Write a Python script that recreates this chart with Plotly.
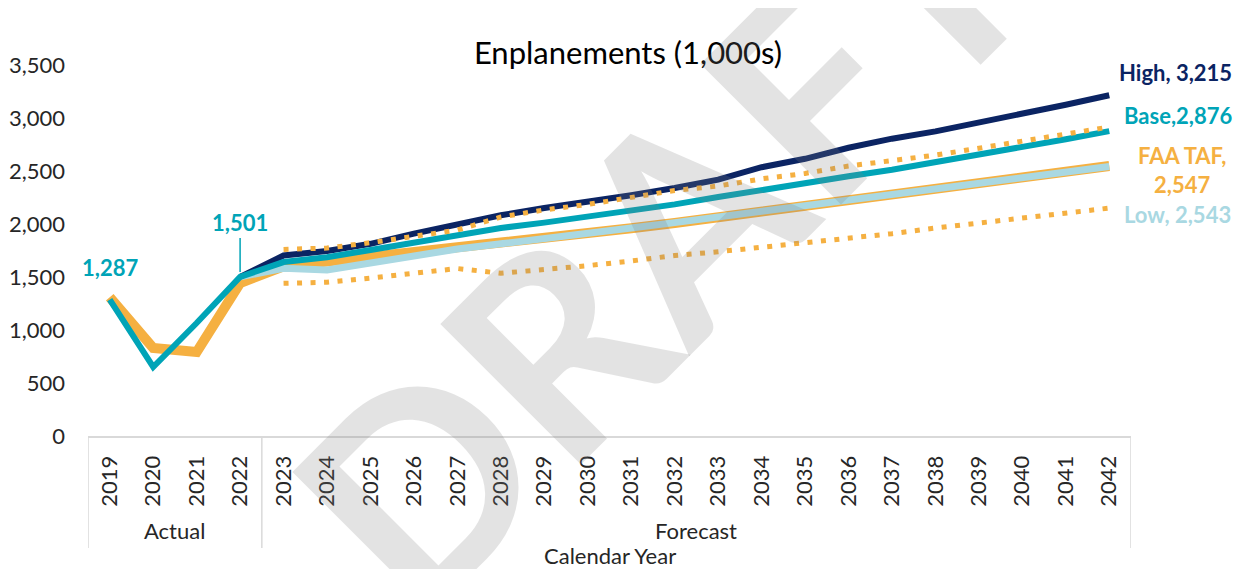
import plotly.graph_objects as go

# ---- data ----
years = [str(y) for y in range(2019, 2043)]

base = [1287, 651, 1066, 1501, 1641, 1686, 1755, 1824, 1892, 1962, 2013, 2066,
        2123, 2185, 2254, 2323, 2392, 2450, 2512, 2581, 2650, 2720, 2800, 2876]
high = [None, None, None, 1501, 1703, 1745, 1813, 1909, 1995, 2082, 2151, 2209,
        2271, 2340, 2419, 2536, 2615, 2719, 2805, 2874, 2955, 3040, 3125, 3215]
low = [None, None, None, 1501, 1583, 1566, 1634, 1703, 1764, 1813, 1858, 1909,
       1962, 2013, 2066, 2116, 2170, 2220, 2274, 2323, 2378, 2432, 2488, 2543]
faa_taf = [1310, 830, 792, 1443, 1600, 1640, 1690, 1735, 1780, 1825, 1865, 1910,
           1960, 2010, 2065, 2115, 2170, 2225, 2280, 2330, 2385, 2440, 2495, 2547]
taf_upper = [None, None, None, None, 1760, 1773, 1824, 1882, 1943, 2066, 2133, 2185,
             2254, 2316, 2358, 2426, 2477, 2547, 2598, 2650, 2715, 2780, 2850, 2915]
taf_lower = [None, None, None, None, 1440, 1450, 1490, 1531, 1580, 1535, 1566, 1607,
             1651, 1703, 1738, 1779, 1824, 1858, 1909, 1962, 2010, 2060, 2105, 2150]

periods = ["Actual", "Forecast"]
period_bounds = [-0.5, 3.5, 23.5]

NAVY = "#0b2463"
TEAL = "#00a4b7"
ORANGE = "#f5b041"
LIGHT = "#a9d8e2"
FONT = "Lato"
last = len(years) - 1

fig = go.Figure()

fig.add_trace(go.Scatter(x=years, y=faa_taf, mode="lines", name="FAA TAF",
                         line=dict(color=ORANGE, width=10)))
fig.add_trace(go.Scatter(x=years, y=low, mode="lines", name="Low",
                         line=dict(color=LIGHT, width=7)))
fig.add_trace(go.Scatter(x=years, y=high, mode="lines", name="High",
                         line=dict(color=NAVY, width=6)))
fig.add_trace(go.Scatter(x=years, y=base, mode="lines", name="Base",
                         line=dict(color=TEAL, width=6)))
for band in (taf_upper, taf_lower):
    fig.add_trace(go.Scatter(x=years, y=band, mode="lines",
                             line=dict(color=ORANGE, width=5, dash="5px,8.5px")))

# data labels (category axis -> use the index, numeric-looking names get cast)
lab = dict(family=FONT, size=22, weight="bold")
fig.add_annotation(x=0, y=base[0], text=f"{base[0]:,}", showarrow=False,
                   yshift=32, font=dict(lab, color=TEAL))
fig.add_annotation(x=3, y=base[3], text=f"{base[3]:,}", showarrow=True,
                   arrowhead=0, arrowwidth=1.5, arrowcolor=TEAL, ax=0, ay=-54,
                   standoff=5, font=dict(lab, color=TEAL))
fig.add_annotation(x=last, y=high[-1], text=f"High, {high[-1]:,}", showarrow=False,
                   xshift=66, yshift=23, font=dict(lab, color=NAVY))
fig.add_annotation(x=last, y=base[-1], text=f"Base,{base[-1]:,}", showarrow=False,
                   xshift=69, yshift=16, font=dict(lab, color=TEAL))
fig.add_annotation(x=last, y=faa_taf[-1], text=f"FAA TAF,<br>{faa_taf[-1]:,}",
                   showarrow=False, xshift=73, yshift=-4, align="center",
                   font=dict(lab, color=ORANGE))
fig.add_annotation(x=last, y=low[-1], text=f"Low, {low[-1]:,}", showarrow=False,
                   xshift=68, yshift=-48, font=dict(lab, color=LIGHT))

# group dividers and labels under the year ticks
for b in period_bounds:
    fig.add_shape(type="line", xref="x", yref="paper", x0=b, x1=b, y0=0, y1=-0.302,
                  line=dict(color="#d9d9d9", width=1.5))
for i, p in enumerate(periods):
    fig.add_annotation(xref="x", yref="paper", x=(period_bounds[i] + period_bounds[i + 1]) / 2,
                       y=-0.256, yanchor="middle", text=p, showarrow=False,
                       font=dict(family=FONT, size=22, color="#262626"))
fig.add_annotation(xref="paper", yref="paper", x=0.5, y=-0.323, yanchor="middle",
                   text="Calendar Year", showarrow=False,
                   font=dict(family=FONT, size=22, color="#262626"))

# watermark
fig.add_annotation(xref="paper", yref="paper", x=0.548, y=0.539, xanchor="center",
                   yanchor="middle", text="DRAFT", showarrow=False, textangle=-45,
                   font=dict(family="Lato", size=275, weight="bold",
                             color="rgba(128,128,128,0.22)"))

# page body has an 8px margin, so the figure is 8px smaller and margins shifted
fig.update_layout(
    width=1236,
    height=561,
    margin=dict(l=80, r=113, t=57, b=133, autoexpand=False),
    plot_bgcolor="white",
    paper_bgcolor="white",
    showlegend=False,
    title=dict(text="Enplanements (1,000s)", x=(628 - 8) / 1236, xanchor="center",
               y=1 - 45 / 561, yanchor="middle",
               font=dict(family=FONT, size=31, color="#000000")),
    xaxis=dict(type="category", range=[-0.5, 23.5], showline=True, linecolor="#d9d9d9",
               linewidth=2, showgrid=False, ticks="", tickangle=-90, automargin=False,
               ticklabelstandoff=9, tickfont=dict(family=FONT, size=22, color="#262626")),
    yaxis=dict(range=[0, 3500], dtick=500, tickformat=",", showgrid=False,
               zeroline=False, showline=False, ticks="", ticklabelstandoff=22,
               automargin=False, tickfont=dict(family=FONT, size=22, color="#262626")),
)

fig.write_html("out.html")
